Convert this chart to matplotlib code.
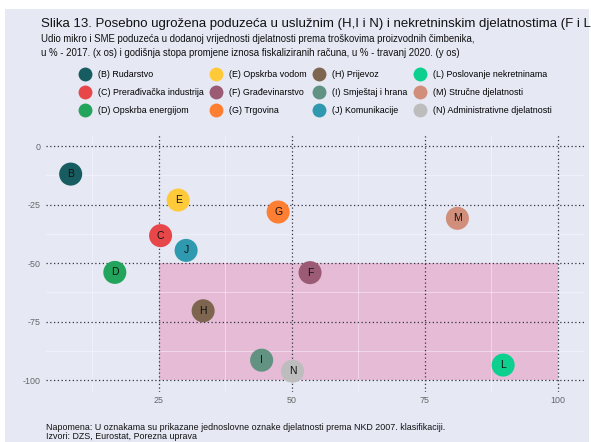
import matplotlib
matplotlib.use("Agg")
import matplotlib.pyplot as plt
from matplotlib.patches import Rectangle
from matplotlib.lines import Line2D

plt.rcParams['font.family'] = ['Liberation Sans', 'DejaVu Sans']

codes = ["B", "C", "D", "E", "F", "G", "H", "I", "J", "L", "M", "N"]
names = ["(B) Rudarstvo", "(C) Prerađivačka industrija", "(D) Opskrba energijom",
         "(E) Opskrba vodom", "(F) Građevinarstvo", "(G) Trgovina",
         "(H) Prijevoz", "(I) Smještaj i hrana", "(J) Komunikacije",
         "(L) Poslovanje nekretninama", "(M) Stručne djelatnosti",
         "(N) Administrativne djelatnosti"]
x_vals = [8.4, 25.3, 16.7, 28.6, 53.4, 47.4, 33.3, 44.3, 30.1, 89.7, 81.1, 50.1]
y_vals = [-12.0, -38.3, -54.0, -23.1, -54.1, -28.2, -70.4, -91.5, -44.6, -93.6, -30.9, -96.2]
colors = ["#175C60", "#E8474A", "#23A45D", "#FFCA3A", "#9B5B74", "#FF7F32",
          "#7D654F", "#629282", "#2F99B0", "#0DD08E", "#D18E7B", "#BDBDBD"]

x_ticks = [25, 50, 75, 100]
y_ticks = [0, -25, -50, -75, -100]
shade_x = [25, 100]
shade_y = [-100, -50]

title = "Slika 13. Posebno ugrožena poduzeća u uslužnim (H,I i N) i nekretninskim djelatnostima (F i L)"
subtitle1 = "Udio mikro i SME poduzeća u dodanoj vrijednosti djelatnosti prema troškovima proizvodnih čimbenika,"
subtitle2 = "u % - 2017. (x os) i godišnja stopa promjene iznosa fiskaliziranih računa, u % - travanj 2020. (y os)"
note1 = "Napomena: U oznakama su prikazane jednoslovne oznake djelatnosti prema NKD 2007. klasifikaciji."
note2 = "Izvori: DZS, Eurostat, Porezna uprava"

W, H = 591, 442
bg = "#E6E8F4"
fig = plt.figure(figsize=(W / 100, H / 100), dpi=100, facecolor="white")
fig.patches.append(Rectangle((5 / W, 0), (589 - 5) / W, (H - 9) / H,
                             transform=fig.transFigure, facecolor=bg,
                             edgecolor="none", zorder=-10))

ax = fig.add_axes([46 / W, 1 - 392 / H, (584 - 46) / W, (392 - 135) / H])
ax.set_facecolor("none")
for s in ax.spines.values():
    s.set_visible(False)
ax.set_xlim(3.76, 104.9)
ax.set_ylim(-105.1, 4.7)

ax.add_patch(Rectangle((shade_x[0], shade_y[0]), shade_x[1] - shade_x[0],
                       shade_y[1] - shade_y[0], facecolor="#E5BBD6",
                       edgecolor="none", zorder=0))

# minor white gridlines
for v in [12.5, 37.5, 62.5, 87.5]:
    ax.axvline(v, color="white", lw=0.6, alpha=0.5, zorder=1)
for v in [-12.5, -37.5, -62.5, -87.5]:
    ax.axhline(v, color="white", lw=0.6, alpha=0.5, zorder=1)

ax.set_xticks(x_ticks)
ax.set_yticks(y_ticks)
ax.set_xticklabels([str(t) for t in x_ticks])
ax.set_yticklabels([str(t) for t in y_ticks])
ax.tick_params(length=0, labelsize=6.4, colors="#666666")
ax.tick_params(axis="y", pad=4)
ax.tick_params(axis="x", pad=3)
ax.grid(True, color="#333344", linestyle=(0, (1, 2)), linewidth=0.9, zorder=2)
ax.set_axisbelow(False)

ax.scatter(x_vals, y_vals, s=275, c=colors, edgecolors="none", zorder=3)
for xv, yv, c in zip(x_vals, y_vals, codes):
    ax.text(xv, yv, c, ha="center", va="center", fontsize=7.5, color="#111111", zorder=4)

handles = [Line2D([], [], marker="o", linestyle="none", markersize=10,
                  markerfacecolor=col, markeredgecolor="none") for col in colors]
fig.legend(handles, names, ncol=4, loc="upper left",
           bbox_to_anchor=(78.5 / W, 1 - 70 / H), borderaxespad=0, borderpad=0,
           frameon=False, fontsize=6.4, handlelength=1.4, handletextpad=0.75,
           columnspacing=0.72, labelspacing=1.0)

fig.text(41 / W, 1 - 26.5 / H, title, fontsize=9.5, color="#111111", va="baseline")
fig.text(41 / W, 1 - 42.5 / H, subtitle1, fontsize=6.9, color="#111111", va="baseline")
fig.text(41 / W, 1 - 55.5 / H, subtitle2, fontsize=6.9, color="#111111", va="baseline")
fig.text(46.5 / W, 1 - 430.5 / H, note1, fontsize=6.4, color="#111111", va="baseline")
fig.text(46.5 / W, 1 - 439 / H, note2, fontsize=6.4, color="#111111", va="baseline")

fig.savefig("out.png", dpi=100)
